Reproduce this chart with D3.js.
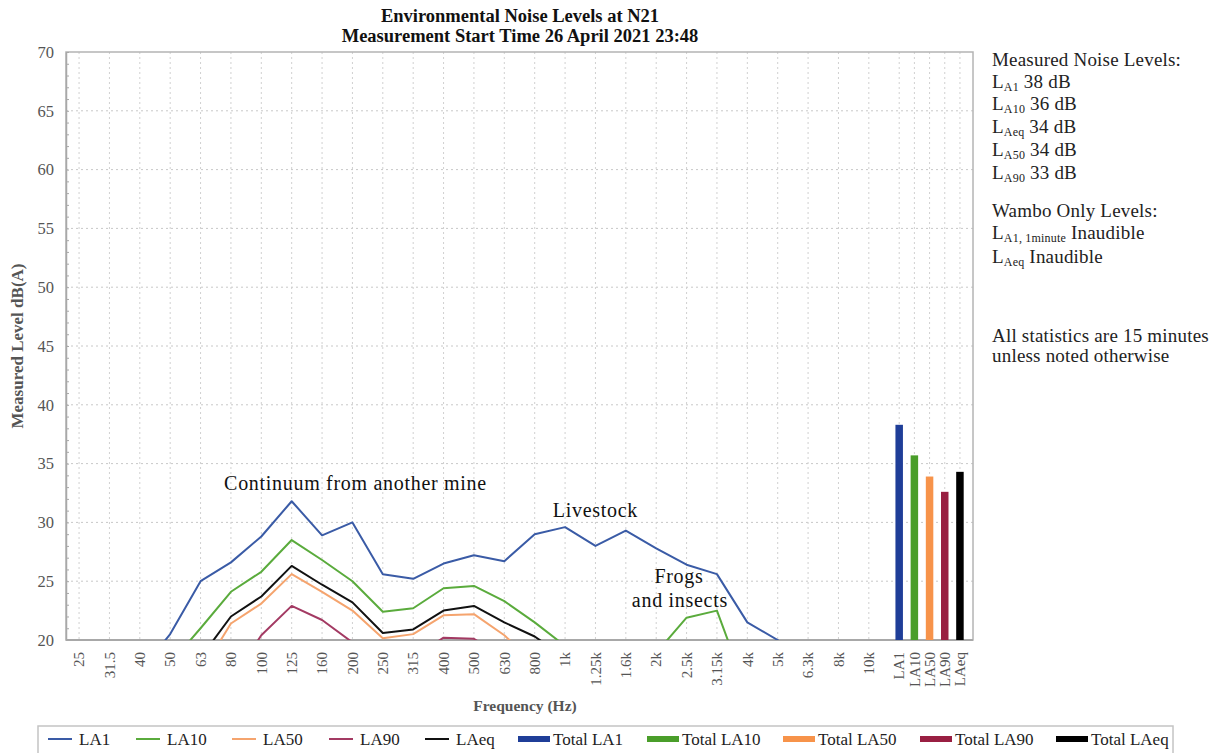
<!DOCTYPE html>
<html>
<head>
<meta charset="utf-8">
<script src="https://cdn.jsdelivr.net/npm/d3@7"></script>
<style>
  body { margin: 0; background: #fff; }
  svg text { font-family: "Liberation Serif", "Times New Roman", serif; }
</style>
</head>
<body>
<div id="mainchart"></div>
<script>
// frequency bands (1/3 octave) and the overall totals
var freqLabels = ["25","31.5","40","50","63","80","100","125","160","200","250","315","400","500","630","800","1k","1.25k","1.6k","2k","2.5k","3.15k","4k","5k","6.3k","8k","10k"];
var totalLabels = ["LA1","LA10","LA50","LA90","LAeq"];

// spectrum values, dB(A) (values under 20 fall below the axis)
var la1  = [15.5, 16.5, 17.3, 20.5, 25.0, 26.6, 28.8, 31.8, 28.9, 30.0, 25.6, 25.2, 26.5, 27.2, 26.7, 29.0, 29.6, 28.0, 29.3, 27.8, 26.4, 25.6, 21.5, 20.0, 18.0, 17.0, 16.0];
var la10 = [14.0, 15.0, 16.5, 18.0, 21.0, 24.1, 25.8, 28.5, 26.8, 25.0, 22.4, 22.7, 24.4, 24.6, 23.3, 21.5, 19.5, 17.5, 17.0, 18.9, 21.9, 22.5, 15.5, 14.0, 13.0, 12.0, 11.0];
var la50 = [12.0, 13.0, 14.0, 15.5, 17.2, 21.4, 23.1, 25.6, 24.1, 22.5, 20.15, 20.5, 22.1, 22.2, 20.4, 18.0, 16.5, 15.5, 15.0, 15.0, 15.5, 16.0, 14.0, 13.0, 12.0, 11.0, 10.0];
var la90 = [10.0, 11.0, 12.0, 13.5, 15.0, 16.5, 20.4, 22.9, 21.7, 19.8, 18.0, 18.5, 20.2, 20.1, 18.5, 16.0, 15.0, 14.0, 13.5, 13.5, 14.0, 14.5, 13.0, 12.0, 11.0, 10.0, 9.0];
var laeq = [13.0, 14.0, 15.0, 16.5, 18.5, 22.0, 23.7, 26.3, 24.7, 23.2, 20.6, 20.9, 22.5, 22.9, 21.5, 20.3, 18.5, 17.0, 16.5, 16.5, 17.0, 17.5, 15.0, 14.0, 13.0, 12.0, 11.0];

// overall levels
var totals = [38.3, 35.7, 33.9, 32.6, 34.3];

var yTicks = [20, 25, 30, 35, 40, 45, 50, 55, 60, 65, 70];

var lineColors = ["#3a5ba6", "#5aab3c", "#f5a46e", "#a33a63", "#111111"];
var barColors  = ["#1f3e98", "#4a9e2a", "#f7934a", "#991f42", "#000000"];

var series = [
  {name: "LA1", values: la1},
  {name: "LA10", values: la10},
  {name: "LA50", values: la50},
  {name: "LA90", values: la90},
  {name: "LAeq", values: laeq}
];

var noteLines = [
  {main: "Measured Noise Levels:"},
  {main: "L", sub: "A1", rest: " 38 dB"},
  {main: "L", sub: "A10", rest: " 36 dB"},
  {main: "L", sub: "Aeq", rest: " 34 dB"},
  {main: "L", sub: "A50", rest: " 34 dB"},
  {main: "L", sub: "A90", rest: " 33 dB"},
  {main: "Wambo Only Levels:"},
  {main: "L", sub: "A1, 1minute", rest: " Inaudible"},
  {main: "L", sub: "Aeq", rest: " Inaudible"},
  {main: "All statistics are 15 minutes"},
  {main: "unless noted otherwise"}
];
var noteY = [66, 88, 110, 133, 156, 179, 217, 239, 263, 342, 362];

var legendX = [48, 136, 232, 329, 425, 518, 647, 783, 920, 1056];

drawChart();

function drawChart(){
  var W = 1215, H = 753;
  var plot = {left: 66, right: 973, top: 52, bottom: 640};

  var svg = d3.select("#mainchart").append("svg")
    .attr("width", W)
    .attr("height", H);

  // category index -> pixel. totals sit at half spacing after 10k
  var x = d3.scaleLinear().domain([-0.43, 29.43]).range([plot.left, plot.right]);
  var y = d3.scaleLinear().domain([20, 70]).range([plot.bottom, plot.top]);
  var totalPos = function(i){ return freqLabels.length + i * 0.5; };

  var defs = svg.append("defs");
  defs.append("clipPath").attr("id", "plotclip")
    .append("rect")
    .attr("x", plot.left).attr("y", plot.top)
    .attr("width", plot.right - plot.left)
    .attr("height", plot.bottom - plot.top);

  // grid
  var grid = svg.append("g").attr("class", "grid");
  grid.selectAll("line.h")
    .data(yTicks.filter(function(t){ return t > 20 && t < 70; }))
    .enter().append("line")
    .attr("class", "h")
    .attr("x1", plot.left).attr("x2", plot.right)
    .attr("y1", d => y(d)).attr("y2", d => y(d))
    .attr("stroke", "#c8c8c8").attr("stroke-dasharray", "2,3");

  var vPos = freqLabels.map(function(d, i){ return i; })
    .concat(totalLabels.map(function(d, i){ return totalPos(i); }));
  grid.selectAll("line.v")
    .data(vPos)
    .enter().append("line")
    .attr("class", "v")
    .attr("x1", d => x(d)).attr("x2", d => x(d))
    .attr("y1", plot.top).attr("y2", plot.bottom)
    .attr("stroke", "#d0d0d0").attr("stroke-dasharray", "2,3");

  // frame
  svg.append("rect")
    .attr("x", plot.left).attr("y", plot.top)
    .attr("width", plot.right - plot.left)
    .attr("height", plot.bottom - plot.top)
    .attr("fill", "none").attr("stroke", "#b4b4b4").attr("stroke-width", 1.5);

  // y axis
  var yAxis = d3.axisLeft(y).tickValues(yTicks).tickSize(0).tickPadding(12);
  var gy = svg.append("g")
    .attr("transform", "translate(" + plot.left + ",0)")
    .call(yAxis);
  gy.select(".domain").attr("stroke", "#a8a8a8").attr("stroke-width", 1.5);
  gy.selectAll("text").attr("font-size", "16.5px").attr("fill", "#555")
    .style("font-family", "'Liberation Serif', serif");

  var yMinor = d3.axisLeft(y).ticks(50).tickSize(-3).tickFormat("");
  var gym = svg.append("g")
    .attr("transform", "translate(" + plot.left + ",0)")
    .call(yMinor);
  gym.select(".domain").remove();
  gym.selectAll("line").attr("stroke", "#a8a8a8");

  // x axis line
  svg.append("line")
    .attr("x1", plot.left).attr("x2", plot.right)
    .attr("y1", plot.bottom).attr("y2", plot.bottom)
    .attr("stroke", "#a8a8a8").attr("stroke-width", 2);

  // x tick labels (rotated)
  var xl = svg.append("g").attr("class", "x axis");
  var xItems = freqLabels.map(function(d, i){ return {t: d, p: i}; })
    .concat(totalLabels.map(function(d, i){ return {t: d, p: totalPos(i)}; }));
  xl.selectAll("text")
    .data(xItems)
    .enter().append("text")
    .attr("transform", d => "translate(" + x(d.p) + "," + (plot.bottom + 12) + ") rotate(-90)")
    .attr("text-anchor", "end")
    .attr("dy", "0.35em")
    .attr("font-size", "15px")
    .attr("fill", "#555")
    .text(d => d.t);

  // lines
  var line = d3.line()
    .x(function(d, i){ return x(i); })
    .y(function(d){ return y(d); });

  svg.append("g").attr("clip-path", "url(#plotclip)")
    .selectAll("path")
    .data(series)
    .enter().append("path")
    .attr("d", d => line(d.values))
    .attr("fill", "none")
    .attr("stroke", (d, i) => lineColors[i])
    .attr("stroke-width", 2)
    .attr("stroke-linejoin", "round");

  // total bars
  var bw = 7.5;
  svg.selectAll("rect.total")
    .data(totals)
    .enter().append("rect")
    .attr("class", "total")
    .attr("x", (d, i) => x(totalPos(i)) - bw / 2)
    .attr("width", bw)
    .attr("y", d => y(d))
    .attr("height", d => plot.bottom - y(d))
    .attr("fill", (d, i) => barColors[i]);

  // annotations inside the plot
  var notes = [
    {t: "Continuum from another mine", x: 9.1, v: 32.75},
    {t: "Livestock", x: 17.0, v: 30.5},
    {t: "Frogs", x: 19.75, v: 24.85},
    {t: "and insects", x: 19.78, v: 22.8}
  ];
  svg.selectAll("text.note")
    .data(notes)
    .enter().append("text")
    .attr("class", "note")
    .attr("x", d => x(d.x))
    .attr("y", d => y(d.v))
    .attr("text-anchor", "middle")
    .attr("font-size", "20px")
    .attr("letter-spacing", "0.7px")
    .attr("fill", "#111")
    .text(d => d.t);

  // title
  svg.append("text").attr("x", 520).attr("y", 22).attr("text-anchor", "middle")
    .attr("font-size", "18.5px").attr("font-weight", "bold").attr("fill", "#111")
    .text("Environmental Noise Levels at N21");
  svg.append("text").attr("x", 520).attr("y", 42).attr("text-anchor", "middle")
    .attr("font-size", "18.5px").attr("font-weight", "bold").attr("fill", "#111")
    .text("Measurement Start Time 26 April 2021 23:48");

  // axis titles
  svg.append("text")
    .attr("transform", "translate(23," + ((plot.top + plot.bottom) / 2) + ") rotate(-90)")
    .attr("text-anchor", "middle")
    .attr("font-size", "17px").attr("font-weight", "bold").attr("fill", "#555")
    .text("Measured Level dB(A)");
  svg.append("text")
    .attr("x", 525).attr("y", 711)
    .attr("text-anchor", "middle")
    .attr("font-size", "15.5px").attr("font-weight", "bold").attr("fill", "#555")
    .text("Frequency (Hz)");

  // side notes
  var side = svg.selectAll("text.side")
    .data(noteLines)
    .enter().append("text")
    .attr("class", "side")
    .attr("x", 992)
    .attr("y", (d, i) => noteY[i])
    .attr("font-size", "19px")
    .attr("letter-spacing", "0.2px")
    .attr("fill", "#222");
  side.append("tspan").text(d => d.main);
  side.filter(d => d.sub).append("tspan")
    .attr("font-size", "12px").attr("dy", 3)
    .text(d => d.sub);
  side.filter(d => d.sub).append("tspan")
    .attr("dy", -3)
    .text(d => d.rest);

  // legend
  svg.append("rect")
    .attr("x", 38).attr("y", 726).attr("width", 1135).attr("height", 40)
    .attr("fill", "none").attr("stroke", "#c4c4c4").attr("stroke-width", 1.5);

  var legendItems = series.map(function(s, i){ return {t: s.name, c: lineColors[i], kind: "line"}; })
    .concat(totalLabels.map(function(s, i){ return {t: "Total " + s, c: barColors[i], kind: "bar"}; }));

  var lg = svg.selectAll("g.leg")
    .data(legendItems)
    .enter().append("g")
    .attr("class", "leg")
    .attr("transform", (d, i) => "translate(" + legendX[i] + ",0)");

  lg.filter(d => d.kind === "line").append("line")
    .attr("x1", 0).attr("x2", 24).attr("y1", 739).attr("y2", 739)
    .attr("stroke", d => d.c).attr("stroke-width", 2);
  lg.filter(d => d.kind === "bar").append("rect")
    .attr("x", 0).attr("y", 736).attr("width", 32).attr("height", 6)
    .attr("fill", d => d.c);
  lg.append("text")
    .attr("x", d => d.kind === "line" ? 31 : 35)
    .attr("y", 745)
    .attr("font-size", "17px")
    .attr("fill", "#222")
    .text(d => d.t);
}
</script>
</body>
</html>
